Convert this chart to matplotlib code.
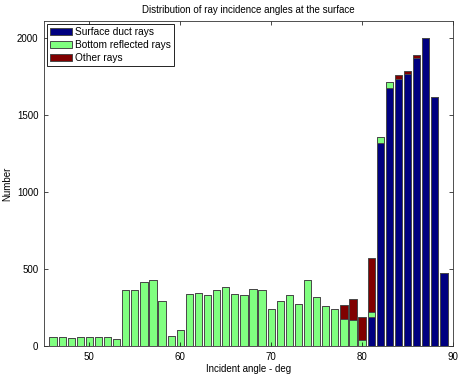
import numpy as np
import matplotlib.pyplot as plt

plt.rcParams['font.family'] = ['Liberation Sans', 'DejaVu Sans']

# incidence angle bins (deg)
angles = list(range(46, 90))

# counts per angle bin
surface_duct = [0] * 35 + [190, 1316, 1677, 1732, 1764, 1868, 2002, 1619, 474]
bottom_reflected = [56, 56, 55, 58, 58, 56, 56, 43,
                    364, 364, 413, 426, 294, 67, 106, 337,
                    342, 329, 366, 381, 340, 329, 370, 362,
                    242, 292, 331, 273, 431, 320, 263, 238,
                    178, 169, 39,
                    33, 43, 37, 0, 0, 0, 0, 0, 0]
other = [0] * 32 + [86, 138, 147, 350, 0, 0, 26, 24, 24, 0, 0, 0]

labels = ["Surface duct rays", "Bottom reflected rays", "Other rays"]
colors = ["#000080", "#80ff80", "#800000"]

fig = plt.figure(figsize=(4.58, 3.75), dpi=100)
ax = fig.add_axes([0.096, 0.077, 0.893, 0.867])

x = np.array(angles)
s = np.array(surface_duct)
b = np.array(bottom_reflected)
o = np.array(other)
ec = "#484848"
ax.bar(x, s, width=0.8, color=colors[0], edgecolor=ec, lw=0.7, label=labels[0])
ax.bar(x, b, width=0.8, bottom=s, color=colors[1], edgecolor=ec, lw=0.7, label=labels[1])
ax.bar(x, o, width=0.8, bottom=s + b, color=colors[2], edgecolor=ec, lw=0.7, label=labels[2])

ax.set_xlim(45, 90)
ax.set_ylim(0, 2110)
ax.set_xticks([50, 60, 70, 80, 90])
ax.set_yticks([0, 500, 1000, 1500, 2000])
ax.tick_params(direction='in', top=True, right=True, labelsize=7, length=3, width=0.5, pad=4)
for sp in ax.spines.values():
    sp.set_linewidth(0.6)
    sp.set_color('#333333')

ax.set_title("Distribution of ray incidence angles at the surface", fontsize=7)
ax.set_xlabel("Incident angle - deg", fontsize=7, labelpad=2)
ax.set_ylabel("Number", fontsize=7, labelpad=3)

leg = ax.legend(loc='upper left', fontsize=7.3, fancybox=False, framealpha=1,
                edgecolor='black', borderaxespad=0.3, handlelength=2.2,
                handletextpad=0.3, labelspacing=0.3, borderpad=0.3)
leg.get_frame().set_linewidth(0.6)

fig.savefig("out.png", dpi=100)
